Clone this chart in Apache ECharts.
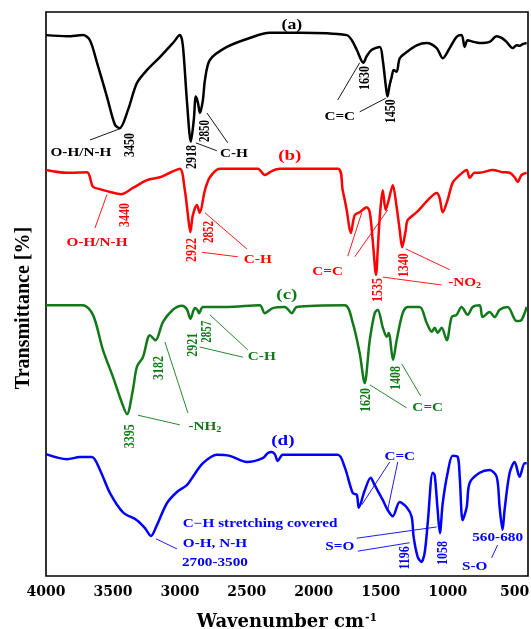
<!DOCTYPE html>
<html>
<head>
<meta charset="utf-8">
<script src="https://cdn.jsdelivr.net/npm/echarts@6/dist/echarts.min.js"></script>
<style>
  html, body { margin: 0; padding: 0; background: #ffffff; }
  #chart { width: 531px; height: 629px; }
</style>
</head>
<body>
<div id="chart"></div>
<script>
// FTIR spectra (a)-(d), stacked with vertical offsets; transmittance in arbitrary units.
const tickLabels = [4000, 3500, 3000, 2500, 2000, 1500, 1000, 500];

// (a)
const aWn = [4000,3843,3724,3672,3619,3545,3485,3450,3388,3321,3246,3149,3052,3000,2978,2948,2918,2896,2881,2866,2850,2828,2813,2776,2649,2478,2328,2104,1754,1716,1679,1630,1604,1567,1507,1485,1463,1450,1433,1418,1403,1381,1358,1306,1231,1157,1082,1037,985,933,896,873,851,806,761,687,634,597,560,515,485,463,440,410];
const aT  = [95.9,95.7,95.9,95.0,91.0,85.0,80.0,79.4,82.6,87.4,89.7,92.0,94.5,95.9,94.1,84.4,77.0,80.9,85.0,84.0,82.1,84.4,87.9,91.5,93.8,95.4,96.3,96.3,95.9,95.0,93.3,91.0,92.2,93.3,93.8,91.5,87.1,85.0,87.1,88.5,89.7,89.4,91.8,92.9,94.1,94.5,93.6,91.8,93.6,95.6,95.9,93.8,95.0,94.7,94.5,94.7,95.7,95.4,94.7,93.6,94.1,94.0,94.3,94.5];

// (b)
const bWn = [4000,3843,3694,3649,3597,3522,3440,3351,3246,3149,3075,3000,2963,2940,2922,2903,2873,2852,2813,2776,2701,2418,2366,2313,2254,1821,1784,1754,1724,1694,1657,1604,1582,1560,1535,1522,1507,1485,1463,1440,1410,1381,1358,1340,1313,1299,1231,1134,1082,1060,1037,1000,963,910,858,836,798,761,664,590,537,500,478,448,410];
const bT  = [72.0,71.5,71.6,69.0,68.6,68.1,67.7,68.8,70.2,70.7,71.5,72.2,68.4,64.0,61.0,64.0,65.8,64.4,68.4,70.7,72.2,72.2,71.1,71.8,72.2,72.2,68.4,64.9,60.8,64.0,64.5,65.4,64.5,59.6,53.4,57.9,63.7,68.4,64.9,66.7,69.3,65.4,61.3,58.3,61.3,63.1,64.5,67.0,67.9,67.0,64.5,66.7,69.7,71.1,72.0,70.6,71.5,71.5,72.0,71.6,71.5,70.7,69.9,71.1,71.5];

// (c)
const cWn = [4000,3724,3649,3575,3500,3433,3395,3351,3321,3276,3224,3182,3127,3052,2985,2948,2921,2888,2870,2857,2828,2649,2403,2366,2306,2216,2164,2127,1769,1709,1657,1620,1582,1545,1522,1485,1455,1440,1408,1381,1336,1299,1209,1157,1119,1097,1075,1045,1007,970,933,896,851,813,761,739,687,649,612,552,485,448,410];
const cT  = [48.0,48.0,46.3,40.1,35.3,30.7,28.7,33.0,37.1,38.8,42.7,41.8,45.0,47.2,47.9,47.3,45.6,47.5,47.2,46.6,47.7,47.7,48.0,46.6,47.5,47.7,46.6,47.7,48.0,44.9,39.5,34.2,41.8,46.6,47.2,44.1,42.4,43.1,38.3,41.8,46.6,47.7,47.7,44.9,43.3,44.0,43.1,44.0,41.8,45.9,46.3,47.7,46.3,47.7,48.0,45.9,46.8,45.9,47.2,47.7,45.2,45.4,47.7];

// (d)
const dWn = [4000,3843,3746,3657,3597,3522,3425,3321,3261,3216,3172,3097,3022,2948,2903,2828,2724,2627,2500,2381,2343,2313,2291,2269,2231,1821,1769,1709,1679,1664,1619,1575,1545,1485,1448,1410,1358,1306,1269,1254,1224,1196,1172,1149,1112,1097,1075,1058,1037,1000,963,925,910,888,858,836,761,687,634,612,590,575,537,500,463,425,410];
const dT  = [21.6,20.7,21.1,21.1,18.8,14.7,11.3,9.9,8.5,7.1,9.0,12.9,14.9,16.1,17.6,20.0,21.5,21.3,20.2,20.9,21.8,22.0,21.6,20.4,21.5,21.5,19.3,14.7,14.4,12.1,15.2,17.4,16.1,13.5,11.7,10.6,13.1,12.2,10.5,6.9,3.4,2.5,4.1,9.4,18.3,17.9,11.7,7.6,12.9,18.3,21.3,21.1,17.6,9.9,12.2,16.5,18.3,18.8,17.6,12.2,8.2,11.7,18.3,20.2,17.6,20.0,20.0];

const INK = { a: '#000000', b: '#ff0000', c: '#12791a', d: '#0000ff' };
const SERIF = '"Liberation Serif", "Times New Roman", serif';
const WIDE_SERIF = '"DejaVu Serif", "Liberation Serif", serif';

const zip = (xs, ys) => xs.map((x, i) => [x, ys[i]]);

const chart = echarts.init(document.getElementById('chart'), null, { renderer: 'canvas' });

function spectrum(name, wn, t, color) {
  return {
    name, type: 'line', data: zip(wn, t), showSymbol: false, smooth: 0.3,
    lineStyle: { color, width: 2.5 }, itemStyle: { color }, z: 3, silent: true
  };
}

chart.setOption({
  animation: false,
  backgroundColor: '#ffffff',
  grid: {
    left: 46, top: 12, right: 3, bottom: 53, outerBoundsMode: 'none', containLabel: false,
    show: true, borderColor: '#000', borderWidth: 1.6, backgroundColor: 'transparent'
  },
  xAxis: {
    type: 'value', min: 400, max: 4000, inverse: true,
    axisLine: { show: false }, axisTick: { show: false }, splitLine: { show: false },
    axisLabel: {
      customValues: tickLabels, margin: 9, formatter: (v) => String(v),
      fontFamily: WIDE_SERIF, fontWeight: 'bold', fontSize: 14, color: '#000'
    },
    name: 'Wavenumber cm{sup|-1}', nameLocation: 'middle', nameGap: 37,
    nameTextStyle: {
      fontFamily: WIDE_SERIF, fontWeight: 'bold', fontSize: 18, color: '#000',
      rich: { sup: { fontFamily: WIDE_SERIF, fontWeight: 'bold', fontSize: 11, color: '#000', verticalAlign: 'top', padding: [0, 0, 8, 1] } }
    }
  },
  yAxis: {
    type: 'value', min: 0, max: 100,
    axisLine: { show: false }, axisTick: { show: false }, splitLine: { show: false }, axisLabel: { show: false },
    name: 'Transmittance [%]', nameLocation: 'middle', nameGap: 12,
    nameTextStyle: { fontFamily: SERIF, fontWeight: 'bold', fontSize: 20, color: '#000', padding: [0, 28, 0, 0] }
  },
  series: [
    spectrum('a', aWn, aT, INK.a),
    spectrum('b', bWn, bT, INK.b),
    spectrum('c', cWn, cT, INK.c),
    spectrum('d', dWn, dT, INK.d)
  ]
});

// Band annotations: horizontal captions, vertical peak positions and leader lines.
const captions = [
  { t: '(a)', at: [2164, 97.7], c: INK.a, size: 14 },
  { t: 'O-H/N-H', at: [3739, 75.0], c: INK.a },
  { t: 'C-H', at: [2597, 74.8], c: INK.a },
  { t: 'C=C', at: [1806, 81.4], c: INK.a },

  { t: '(b)', at: [2179, 74.5], c: INK.b, size: 15 },
  { t: 'O-H/N-H', at: [3619, 59.0], c: INK.b },
  { t: 'C-H', at: [2418, 56.0], c: INK.b },
  { t: 'C=C', at: [1896, 53.9], c: INK.b },
  { t: '-NO{s|2}', at: [873, 51.9], c: INK.b },

  { t: '(c)', at: [2201, 49.8], c: INK.c, size: 15 },
  { t: '-NH{s|2}', at: [2813, 26.4], c: INK.c },
  { t: 'C-H', at: [2388, 38.8], c: INK.c },
  { t: 'C=C', at: [1149, 29.8], c: INK.c },

  { t: '(d)', at: [2231, 23.9], c: INK.d, size: 15 },
  { t: 'C\u2212H stretching covered', at: [2978, 9.2], c: INK.d, left: true },
  { t: 'O-H, N-H', at: [2978, 5.7], c: INK.d, left: true },
  { t: '2700-3500', at: [2985, 2.3], c: INK.d, left: true },
  { t: 'C=C', at: [1358, 21.1], c: INK.d },
  { t: 'S=O', at: [1806, 5.1], c: INK.d },
  { t: '560-680', at: [627, 6.7], c: INK.d },
  { t: 'S-O', at: [798, 1.6], c: INK.d }
];

const peaks = [
  { t: '3450', at: [3373, 76.4], c: INK.a },
  { t: '2918', at: [2910, 74.3], c: INK.a },
  { t: '2850', at: [2806, 78.9], c: INK.a, size: 11 },
  { t: '1630', at: [1619, 88.3], c: INK.a },
  { t: '1450', at: [1425, 82.4], c: INK.a },

  { t: '3440', at: [3410, 64.0], c: INK.b },
  { t: '2922', at: [2910, 57.8], c: INK.b },
  { t: '2852', at: [2776, 61.0], c: INK.b, size: 11 },
  { t: '1535', at: [1522, 50.7], c: INK.b },
  { t: '1340', at: [1328, 55.1], c: INK.b },

  { t: '3395', at: [3373, 24.8], c: INK.c },
  { t: '3182', at: [3157, 36.9], c: INK.c },
  { t: '2921', at: [2903, 41.0], c: INK.c },
  { t: '2857', at: [2798, 43.3], c: INK.c, size: 11 },
  { t: '1620', at: [1612, 31.2], c: INK.c },
  { t: '1408', at: [1388, 35.1], c: INK.c },

  { t: '1196', at: [1321, 3.2], c: INK.d },
  { t: '1058', at: [1037, 4.1], c: INK.d }
];

const leaders = [
  { from: [3672, 77.3], to: [3448, 79.3], c: INK.a },
  { from: [2881, 76.8], to: [2724, 75.4], c: INK.a },
  { from: [2798, 82.1], to: [2642, 76.8], c: INK.a },
  { from: [1821, 84.4], to: [1657, 91.0], c: INK.a },
  { from: [1657, 82.3], to: [1463, 84.7], c: INK.a },

  { from: [3634, 61.7], to: [3545, 67.6], c: INK.b },
  { from: [2836, 57.4], to: [2567, 56.6], c: INK.b },
  { from: [2813, 64.4], to: [2500, 58.0], c: INK.b },
  { from: [1746, 56.7], to: [1642, 64.4], c: INK.b },
  { from: [1694, 56.6], to: [1448, 64.9], c: INK.b },
  { from: [1485, 53.0], to: [1045, 51.6], c: INK.b },
  { from: [1313, 58.0], to: [985, 54.3], c: INK.b },

  { from: [3313, 28.5], to: [3000, 26.8], c: INK.c },
  { from: [3112, 41.5], to: [2940, 28.9], c: INK.c },
  { from: [2851, 40.6], to: [2530, 38.8], c: INK.c },
  { from: [2776, 46.3], to: [2493, 40.1], c: INK.c },
  { from: [1582, 33.9], to: [1306, 29.8], c: INK.c },
  { from: [1343, 37.6], to: [1201, 31.9], c: INK.c },

  { from: [3179, 6.6], to: [3022, 4.8], c: INK.d },
  { from: [1433, 20.2], to: [1642, 12.6], c: INK.d },
  { from: [1373, 20.2], to: [1448, 11.7], c: INK.d },
  { from: [1679, 6.7], to: [1082, 8.7], c: INK.d },
  { from: [1672, 4.4], to: [1284, 5.9], c: INK.d },
  { from: [672, 3.2], to: [627, 5.5], c: INK.d }
];

const STRETCH = 1.27;
const px = (pt) => chart.convertToPixel({ gridIndex: 0 }, pt);

const graphics = [];
captions.forEach((a) => {
  const [x, y] = px(a.at);
  const size = a.size || 12;
  graphics.push({
    type: 'text', x, y, scaleX: STRETCH, z: 10, silent: true,
    style: {
      text: a.t, fill: a.c, fontFamily: SERIF, fontWeight: 'bold', fontSize: size,
      align: a.left ? 'left' : 'center', verticalAlign: 'middle',
      textAlign: a.left ? 'left' : 'center', textVerticalAlign: 'middle',
      rich: { s: { fill: a.c, fontFamily: SERIF, fontWeight: 'bold', fontSize: 8, verticalAlign: 'bottom', padding: [6, 0, 0, 0] } }
    }
  });
});
peaks.forEach((a) => {
  const [x, y] = px(a.at);
  graphics.push({
    type: 'text', x, y, rotation: Math.PI / 2, scaleY: STRETCH, z: 10, silent: true,
    style: {
      text: a.t, fill: a.c, fontFamily: SERIF, fontWeight: 'bold', fontSize: a.size || 12,
      align: 'center', verticalAlign: 'middle', textAlign: 'center', textVerticalAlign: 'middle'
    }
  });
});
leaders.forEach((l) => {
  const [x1, y1] = px(l.from);
  const [x2, y2] = px(l.to);
  graphics.push({
    type: 'line', z: 9, silent: true,
    shape: { x1, y1, x2, y2 },
    style: { stroke: l.c, lineWidth: 0.9 }
  });
});

chart.setOption({ graphic: graphics });
</script>
</body>
</html>
